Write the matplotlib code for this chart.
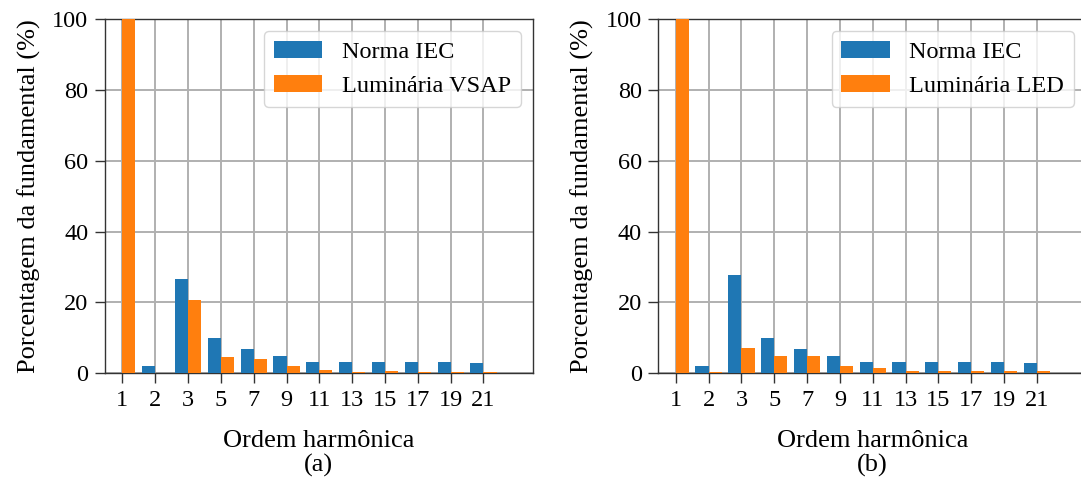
import numpy as np
import matplotlib.pyplot as plt

plt.rcParams['font.family'] = ['Liberation Serif', 'DejaVu Serif']
plt.rcParams['font.size'] = 17.5

# harmonic orders and spectra (% of fundamental)
ordens = ['1', '2', '3', '5', '7', '9', '11', '13', '15', '17', '19', '21']
iec = [0, 2.0, 26.6, 10.0, 7.0, 4.9, 3.1, 3.1, 3.1, 3.3, 3.1, 2.9]
vsap = [100, 0.1, 20.7, 4.6, 4.0, 2.0, 1.0, 0.3, 0.6, 0.3, 0.35, 0.35]
iec_b = [0, 2.0, 27.8, 10.0, 7.0, 4.9, 3.1, 3.1, 3.1, 3.3, 3.1, 2.8]
led = [100, 0.3, 7.2, 4.9, 4.9, 2.0, 1.4, 0.55, 0.65, 0.55, 0.55, 0.55]

x = np.arange(len(ordens))
w = 0.4

fig = plt.figure(figsize=(10.81, 4.79), dpi=100)
ax1 = fig.add_axes([0.0971, 0.2206, 0.3957, 0.7397])
ax2 = fig.add_axes([0.6090, 0.2206, 0.3957, 0.7397])


def painel(ax, norma, medida, nome, letra):
    ax.bar(x - w, norma, w, align='edge', color='#1f77b4', label='Norma IEC', zorder=3)
    ax.bar(x, medida, w, align='edge', color='#ff7f0e', label=nome, zorder=3)
    ax.set_xticks(x)
    ax.set_xticklabels(ordens)
    ax.set_xlim(-0.53, 12.5)
    ax.set_ylim(0, 100)
    ax.set_yticks(np.arange(0, 101, 20))
    ax.grid(True, color='#b0b0b0', lw=1.4, zorder=0)
    ax.tick_params(length=7, width=1, pad=5, color='#333333')
    for s in ax.spines.values():
        s.set_color('#333333')
        s.set_linewidth(1)
    ax.set_xlabel('Ordem harmônica\n(' + letra + ')', fontsize=19,
                  linespacing=1.09, labelpad=14)
    ax.set_ylabel('Porcentagem da fundamental (%)', fontsize=19, labelpad=8)
    ax.legend(loc='upper right')


painel(ax1, iec, vsap, 'Luminária VSAP', 'a')
painel(ax2, iec_b, led, 'Luminária LED', 'b')

fig.savefig('out.png', dpi=100)
